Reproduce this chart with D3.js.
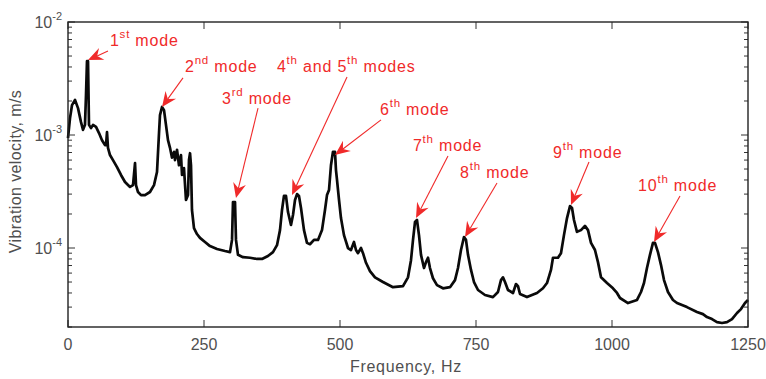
<!DOCTYPE html>
<html>
<head>
<meta charset="utf-8">
<script src="https://cdn.jsdelivr.net/npm/d3@7"></script>
<style>
  html, body { margin: 0; padding: 0; background: #fff; }
  svg { display: block; }
</style>
</head>
<body>
<script>
// ---------------- DATA ----------------
const freqHz = [0, 3.7, 7.4, 12.9, 18.4, 23.9, 27.6, 31.2, 33.1, 34.9, 36.8, 38.6, 42.3, 46, 51.5, 57, 62.5, 68, 69.9, 71.7, 73.5, 77.2, 82.7, 90.1, 97.4, 104.8, 114, 119.5, 123.2, 125, 128.7, 134.2, 141.5, 150.7, 158.1, 163.6, 167.3, 169.1, 172.8, 176.5, 180.1, 183.8, 187.5, 191.2, 194.9, 196.7, 200.4, 204, 207.7, 209.6, 213.2, 216.9, 220.6, 222.4, 224.3, 226.1, 227.9, 231.6, 237.1, 242.6, 251.8, 261, 273.9, 288.6, 297.8, 301.5, 303.3, 307, 308.8, 312.5, 321.7, 334.6, 347.4, 356.6, 367.6, 376.8, 384.2, 389.7, 393.4, 397, 400.7, 404.4, 409.9, 413.6, 417.3, 421, 424.6, 428.3, 433.8, 439.3, 444.8, 452.2, 459.6, 466.9, 472.4, 476.1, 479.8, 483.4, 487.1, 490.8, 492.6, 494.5, 498.2, 501.8, 507.3, 514.7, 520.2, 525.7, 529.4, 533.1, 538.6, 542.3, 547.8, 555.1, 564.3, 579, 597.4, 615.8, 625, 630.5, 634.2, 637.9, 641.5, 645.2, 648.9, 654.4, 658.1, 661.8, 665.4, 670.9, 678.3, 689.3, 702.2, 711.4, 716.9, 722.4, 727.9, 731.6, 735.3, 740.8, 746.3, 753.7, 766.5, 781.2, 790.4, 795.9, 799.6, 803.3, 808.8, 818, 823.5, 827.2, 830.9, 843.7, 862.1, 873.1, 880.5, 887.8, 891.5, 900.7, 906.2, 911.7, 917.3, 922.8, 926.5, 930.1, 935.6, 943, 950.3, 955.9, 961.4, 968.7, 974.2, 979.8, 990.8, 1001.8, 1009.2, 1014.7, 1029.4, 1046, 1053.3, 1058.8, 1064.3, 1069.8, 1075.3, 1079, 1084.5, 1090, 1095.6, 1102.9, 1112.1, 1119.5, 1137.8, 1156.2, 1167.2, 1174.6, 1183.8, 1193, 1202.2, 1211.4, 1220.6, 1229.8, 1237.1, 1244.5, 1250];

const velocity = [9.4e-4, 1.41e-3, 1.84e-3, 2.04e-3, 1.73e-3, 1.30e-3, 1.11e-3, 1.23e-3, 2.26e-3, 4.5e-3, 4.5e-3, 1.23e-3, 1.15e-3, 1.23e-3, 1.18e-3, 1.04e-3, 9.0e-4, 8.15e-4, 8.15e-4, 1.06e-3, 7.7e-4, 6.65e-4, 6.0e-4, 5.2e-4, 4.43e-4, 3.84e-4, 3.47e-4, 3.6e-4, 5.65e-4, 3.6e-4, 3.13e-4, 2.94e-4, 2.94e-4, 3.13e-4, 3.6e-4, 4.7e-4, 1.04e-3, 1.50e-3, 1.77e-3, 1.66e-3, 1.23e-3, 9.0e-4, 7.7e-4, 6.3e-4, 7.1e-4, 6.0e-4, 7.4e-4, 5.4e-4, 6.65e-4, 4.43e-4, 5.1e-4, 2.66e-4, 2.94e-4, 6.0e-4, 6.9e-4, 5.4e-4, 2.17e-4, 1.50e-4, 1.33e-4, 1.23e-4, 1.13e-4, 1.04e-4, 9.8e-5, 9.4e-5, 9.2e-5, 1.18e-4, 2.55e-4, 2.55e-4, 1.18e-4, 8.7e-5, 8.3e-5, 8.2e-5, 8.0e-5, 8.0e-5, 8.5e-5, 9.2e-5, 1.06e-4, 1.44e-4, 2.17e-4, 2.89e-4, 2.89e-4, 2.08e-4, 1.60e-4, 1.96e-4, 2.66e-4, 3.0e-4, 2.89e-4, 2.26e-4, 1.44e-4, 1.11e-4, 1.08e-4, 1.18e-4, 1.18e-4, 1.44e-4, 2.17e-4, 2.94e-4, 3.26e-4, 5.4e-4, 7.1e-4, 7.1e-4, 4.9e-4, 4.0e-4, 2.66e-4, 1.84e-4, 1.30e-4, 1.0e-4, 9.6e-5, 1.13e-4, 9.6e-5, 9.0e-5, 1.0e-4, 9.0e-5, 7.4e-5, 6.25e-5, 5.5e-5, 5.0e-5, 4.5e-5, 4.6e-5, 5.5e-5, 7.8e-5, 1.18e-4, 1.70e-4, 1.77e-4, 1.30e-4, 8.7e-5, 6.65e-5, 7.5e-5, 8.2e-5, 6.65e-5, 5.4e-5, 4.7e-5, 4.4e-5, 4.5e-5, 5.2e-5, 6.65e-5, 9.6e-5, 1.25e-4, 1.18e-4, 8.7e-5, 6.4e-5, 5.0e-5, 4.25e-5, 3.84e-5, 3.68e-5, 4.08e-5, 5.2e-5, 5.5e-5, 5.0e-5, 4.25e-5, 4.0e-5, 4.8e-5, 4.6e-5, 3.92e-5, 3.68e-5, 4.0e-5, 4.4e-5, 4.9e-5, 6.4e-5, 8.2e-5, 8.2e-5, 9.0e-5, 1.30e-4, 1.84e-4, 2.35e-4, 2.26e-4, 1.77e-4, 1.39e-4, 1.44e-4, 1.57e-4, 1.44e-4, 1.11e-4, 9.6e-5, 7.5e-5, 5.5e-5, 4.9e-5, 4.4e-5, 4.0e-5, 3.61e-5, 3.26e-5, 3.47e-5, 4.08e-5, 4.9e-5, 6.65e-5, 8.7e-5, 1.11e-4, 1.11e-4, 9.2e-5, 7.1e-5, 5.2e-5, 4.08e-5, 3.47e-5, 3.26e-5, 3.0e-5, 2.72e-5, 2.6e-5, 2.45e-5, 2.35e-5, 2.21e-5, 2.17e-5, 2.21e-5, 2.35e-5, 2.66e-5, 2.88e-5, 3.26e-5, 3.47e-5];

const xTickValues = [0, 250, 500, 750, 1000, 1250];
const xTickLabels = ["0", "250", "500", "750", "1000", "1250"];
const yMajorValues = [1e-4, 1e-3, 1e-2];
const yTickBase = ["10", "10", "10"];
const yTickExponent = ["-4", "-3", "-2"];
const yDomain = [2e-5, 1e-2];
const xDomain = [0, 1250];

const xTitle = "Frequency, Hz";
const yTitle = "Vibration velocity, m/s";

// annotation labels: segments [text, isSuperscript]
const annotLabels = [
  [["1", 0], ["st", 1], [" mode", 0]],
  [["2", 0], ["nd", 1], [" mode", 0]],
  [["3", 0], ["rd", 1], [" mode", 0]],
  [["4", 0], ["th", 1], [" and 5", 0], ["th", 1], [" modes", 0]],
  [["6", 0], ["th", 1], [" mode", 0]],
  [["7", 0], ["th", 1], [" mode", 0]],
  [["8", 0], ["th", 1], [" mode", 0]],
  [["9", 0], ["th", 1], [" mode", 0]],
  [["10", 0], ["th", 1], [" mode", 0]]
];
// anchor points in data coordinates [Hz, m/s]
const annotTextAt = [[77, 6.13e-3], [215, 3.61e-3], [283, 1.88e-3], [384, 3.61e-3], [573.5, 1.50e-3], [634, 7.22e-4], [720.6, 4.16e-4], [891.5, 6.26e-4], [1047.8, 3.19e-4]];
const annotTailAt = [[73.5, 5.53e-3], [211.4, 3.2e-3], [349.3, 1.73e-3], [512.9, 3.26e-3], [575.4, 1.36e-3], [698.5, 6.52e-4], [788.6, 3.76e-4], [957.7, 5.77e-4], [1125, 2.89e-4]];
const annotTipAt = [[36.8, 4.61e-3], [172.8, 1.77e-3], [308.8, 2.77e-4], [411.8, 2.94e-4], [490.8, 6.65e-4], [639.7, 1.84e-4], [729.8, 1.25e-4], [924.6, 2.4e-4], [1077.2, 1.13e-4]];

// ---------------- LAYOUT ----------------
const W = 766, H = 379;
const plot = { left: 68, right: 748, top: 22, bottom: 327 };
const red = "#f02a2a";
const grey = "#505050";
const font = "'Liberation Sans', Arial, Helvetica, sans-serif";

const svg = d3.select("body").append("svg").attr("width", W).attr("height", H)
  .style("font-family", font);

const x = d3.scaleLinear().domain(xDomain).range([plot.left, plot.right]);
const y = d3.scaleLog().domain(yDomain).range([plot.bottom, plot.top]);

// data line
const pts = freqHz.map((f, i) => [f, velocity[i]]);
svg.append("path")
  .datum(pts)
  .attr("fill", "none")
  .attr("stroke", "#0a0a0a")
  .attr("stroke-width", 2.7)
  .attr("stroke-linejoin", "round")
  .attr("d", d3.line().x(d => x(d[0])).y(d => y(d[1])));

// ticks
const tickG = svg.append("g").attr("stroke", "#333").attr("stroke-width", 1);
const majorLen = 7, minorLen = 4;
xTickValues.forEach(v => {
  tickG.append("line").attr("x1", x(v)).attr("x2", x(v)).attr("y1", plot.bottom).attr("y2", plot.bottom - majorLen);
  tickG.append("line").attr("x1", x(v)).attr("x2", x(v)).attr("y1", plot.top).attr("y2", plot.top + majorLen);
});
const minorVals = [];
[1e-5, 1e-4, 1e-3].forEach(dec => {
  for (let k = 2; k <= 9; k++) {
    const v = dec * k;
    if (v >= yDomain[0] && v <= yDomain[1]) minorVals.push(v);
  }
});
minorVals.forEach(v => {
  tickG.append("line").attr("x1", plot.left).attr("x2", plot.left + minorLen).attr("y1", y(v)).attr("y2", y(v));
  tickG.append("line").attr("x1", plot.right).attr("x2", plot.right - minorLen).attr("y1", y(v)).attr("y2", y(v));
});
yMajorValues.forEach(v => {
  tickG.append("line").attr("x1", plot.left).attr("x2", plot.left + majorLen).attr("y1", y(v)).attr("y2", y(v));
  tickG.append("line").attr("x1", plot.right).attr("x2", plot.right - majorLen).attr("y1", y(v)).attr("y2", y(v));
});

// frame
svg.append("rect")
  .attr("x", plot.left).attr("y", plot.top)
  .attr("width", plot.right - plot.left).attr("height", plot.bottom - plot.top)
  .attr("fill", "none").attr("stroke", "#222").attr("stroke-width", 1.4);

// x tick labels
xTickValues.forEach((v, i) => {
  svg.append("text")
    .attr("x", x(v)).attr("y", plot.bottom + 23)
    .attr("text-anchor", "middle")
    .attr("font-size", 16).attr("fill", grey)
    .text(xTickLabels[i]);
});

// y tick labels with superscript exponent
yMajorValues.forEach((v, i) => {
  const t = svg.append("text")
    .attr("x", plot.left - 6).attr("y", y(v) + 6)
    .attr("text-anchor", "end")
    .attr("font-size", 16).attr("fill", grey);
  t.append("tspan").text(yTickBase[i]);
  t.append("tspan").attr("font-size", 11).attr("dy", -8).text(yTickExponent[i]);
});

// axis titles
svg.append("text")
  .attr("x", (plot.left + plot.right) / 2 - 2).attr("y", 372)
  .attr("text-anchor", "middle").attr("font-size", 16).attr("fill", grey)
  .attr("letter-spacing", 0.7)
  .text(xTitle);
svg.append("text")
  .attr("transform", `translate(21, ${(plot.top + plot.bottom) / 2 - 3}) rotate(-90)`)
  .attr("text-anchor", "middle").attr("font-size", 16).attr("fill", grey)
  .attr("letter-spacing", 0.4)
  .text(yTitle);

// annotations
const annG = svg.append("g");
annotLabels.forEach((segs, i) => {
  const tx = x(annotTextAt[i][0]), ty = y(annotTextAt[i][1]);
  const t = annG.append("text").attr("x", tx).attr("y", ty)
    .attr("font-size", 16).attr("fill", red)
    .attr("letter-spacing", 0.8);
  let raised = false;
  segs.forEach(([s, sup]) => {
    const ts = t.append("tspan").text(s);
    if (sup && !raised) { ts.attr("dy", -8).attr("font-size", 11.5); raised = true; }
    else if (sup) { ts.attr("font-size", 11.5); }
    else if (!sup && raised) { ts.attr("dy", 8); raised = false; }
  });

  const x0 = x(annotTailAt[i][0]), y0 = y(annotTailAt[i][1]);
  const x1 = x(annotTipAt[i][0]), y1 = y(annotTipAt[i][1]);
  const ang = Math.atan2(y1 - y0, x1 - x0);
  const L = 15, hw = 6.5, notch = 10;
  const ex = x1 - Math.cos(ang) * notch, ey = y1 - Math.sin(ang) * notch;
  annG.append("line")
    .attr("x1", x0).attr("y1", y0).attr("x2", ex).attr("y2", ey)
    .attr("stroke", red).attr("stroke-width", 1.1);
  annG.append("path")
    .attr("d", `M0,0 L${-L},${-hw} L${-notch},0 L${-L},${hw} Z`)
    .attr("transform", `translate(${x1},${y1}) rotate(${ang * 180 / Math.PI})`)
    .attr("fill", red);
});
</script>
</body>
</html>
